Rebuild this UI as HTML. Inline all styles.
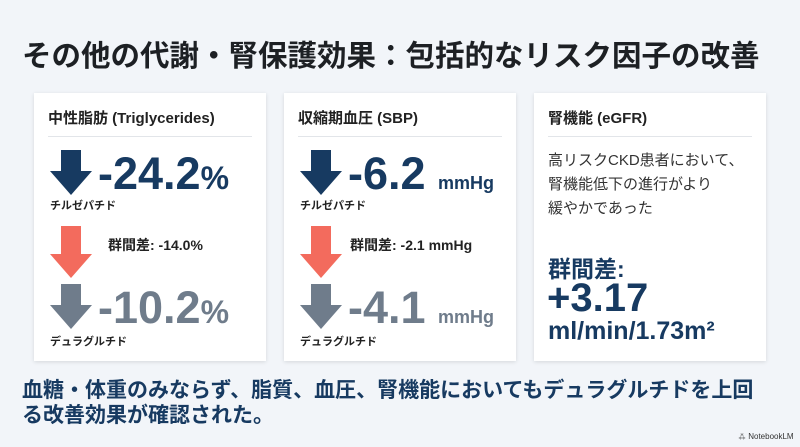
<!DOCTYPE html>
<html><head><meta charset="utf-8"><style>
*{margin:0;padding:0;box-sizing:border-box}
body{width:800px;height:447px;background:#f2f5f9;font-family:"Liberation Sans","Noto Sans CJK JP",sans-serif;position:relative;overflow:hidden;color:#1f2226}
.a{position:absolute;white-space:nowrap}
.card{position:absolute;top:93px;width:232px;height:268px;background:#fff;box-shadow:0 1px 4px rgba(0,0,0,.12)}
.h{position:absolute;left:14px;top:14px;font-size:15px;font-weight:bold;color:#222}
.hr{position:absolute;left:14px;right:14px;top:43px;height:1px;background:#e2e5e9}
.big{font-weight:bold;font-size:45px;letter-spacing:0px}
.lbl{font-size:11px;font-weight:bold;color:#222}
.diff{font-size:14px;font-weight:bold;color:#222}
.navy{color:#173a61}.gray{color:#6f7c8b}
</style></head><body>
<div class="a" style="left:22px;top:33px;font-size:29.5px;font-weight:bold;color:#1d2024">その他の代謝・腎保護効果：包括的なリスク因子の改善</div>

<div class="card" style="left:34px">
<div class="h">中性脂肪 (Triglycerides)</div><div class="hr"></div>
<svg class="a" style="left:16px;top:57px" width="42" height="45"><polygon points="11,0 31,0 31,21 42,21 21,45 0,21 11,21" fill="#173a61"/></svg>
<div class="a big navy" style="left:64px;top:55px">-24.2<span style="font-size:32px">%</span></div>
<div class="a lbl" style="left:16px;top:104px">チルゼパチド</div>
<svg class="a" style="left:16px;top:133px" width="42" height="52"><polygon points="11,0 31,0 31,28 42,28 21,52 0,28 11,28" fill="#f36b5d"/></svg>
<div class="a diff" style="left:74px;top:142px">群間差: -14.0%</div>
<div class="a" style="left:16px;top:191px"><svg width="42" height="45"><polygon points="11,0 31,0 31,21 42,21 21,45 0,21 11,21" fill="#6f7c8b"/></svg></div>
<div class="a big gray" style="left:64px;top:189px">-10.2<span style="font-size:32px">%</span></div>
<div class="a lbl" style="left:16px;top:240px">デュラグルチド</div>
</div>

<div class="card" style="left:284px">
<div class="h">収縮期血圧 (SBP)</div><div class="hr"></div>
<svg class="a" style="left:16px;top:57px" width="42" height="45"><polygon points="11,0 31,0 31,21 42,21 21,45 0,21 11,21" fill="#173a61"/></svg>
<div class="a big navy" style="left:64px;top:55px">-6.2 <span style="font-size:18px">mmHg</span></div>
<div class="a lbl" style="left:16px;top:104px">チルゼパチド</div>
<svg class="a" style="left:16px;top:133px" width="42" height="52"><polygon points="11,0 31,0 31,28 42,28 21,52 0,28 11,28" fill="#f36b5d"/></svg>
<div class="a diff" style="left:66px;top:142px">群間差: -2.1 mmHg</div>
<div class="a" style="left:16px;top:191px"><svg width="42" height="45"><polygon points="11,0 31,0 31,21 42,21 21,45 0,21 11,21" fill="#6f7c8b"/></svg></div>
<div class="a big gray" style="left:64px;top:189px">-4.1 <span style="font-size:18px">mmHg</span></div>
<div class="a lbl" style="left:16px;top:240px">デュラグルチド</div>
</div>

<div class="card" style="left:534px">
<div class="h">腎機能 (eGFR)</div><div class="hr"></div>
<div class="a" style="left:14px;top:56px;font-size:15px;line-height:24px;color:#333">高リスクCKD患者において、<br>腎機能低下の進行がより<br>緩やかであった</div>
<div class="a navy" style="left:14px;top:157px;font-size:23px;font-weight:bold">群間差:</div>
<div class="a navy" style="left:13px;top:183px;font-size:40px;font-weight:bold">+3.17</div>
<div class="a navy" style="left:14px;top:224px;font-size:25px;font-weight:bold">ml/min/1.73m²</div>
</div>

<div class="a" style="left:22px;top:378px;font-size:21px;font-weight:bold;line-height:25px;color:#173a61">血糖・体重のみならず、脂質、血圧、腎機能においてもデュラグルチドを上回<br>る改善効果が確認された。</div>
<div class="a" style="left:738px;top:431px;font-size:8px;color:#333">⁂ NotebookLM</div>
</body></html>
